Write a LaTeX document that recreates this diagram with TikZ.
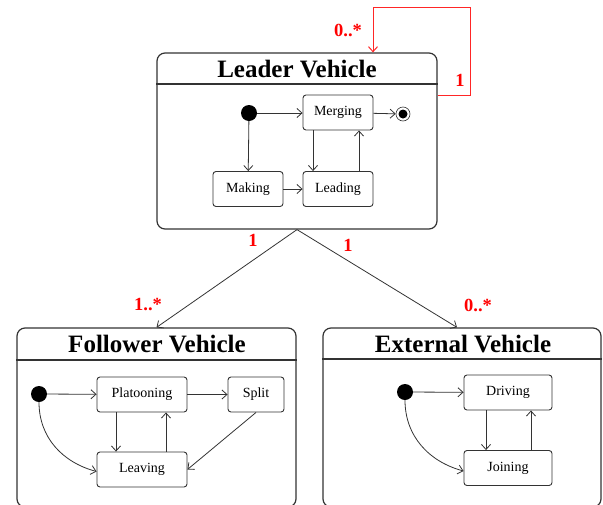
\documentclass[tikz,border=0pt]{standalone}
\usepackage{fontspec}
\setmainfont{Liberation Serif}
\usetikzlibrary{arrows.meta}
\begin{document}
\begin{tikzpicture}[x=1pt,y=-1pt,
  compound/.style={draw=black!80, line width=1.2pt, rounded corners=8pt, inner sep=0pt},
  divider/.style={draw=black!80, line width=1.2pt},
  statebox/.style={draw=black!80, line width=0.9pt, rounded corners=3pt, minimum height=35pt,
    fill=white, inner sep=0pt, font=\fontsize{14}{14}\selectfont},
  initial/.style={circle, fill=black, minimum size=16pt, inner sep=0pt},
  final/.style={circle, draw=black!80, line width=0.6pt, minimum size=14pt, inner sep=0pt,
    path picture={\fill[black] (path picture bounding box.center) circle (4.5pt);}},
  trans/.style={draw=black!80, line width=0.8pt, -{Straight Barb[length=5pt,width=9pt]}},
  assoc/.style={draw=black!80, line width=0.8pt, -{Straight Barb[length=5pt,width=9pt]}},
  redloop/.style={draw=red!85!white, line width=1pt, -{Straight Barb[length=5pt,width=9pt]}},
  mult/.style={text=red, font=\bfseries\fontsize{18.5}{18.5}\selectfont},
  title/.style={font=\bfseries\fontsize{25}{25}\selectfont}
]
\useasboundingbox (0,0) rectangle (603,504);
\clip (0,0) rectangle (603,504);

% ---------- Leader Vehicle ----------
\node[compound, minimum width=280pt, minimum height=176pt] (leader) at (297,141) {};
\draw[divider] (leader.west |- 0,84) -- (leader.east |- 0,84);
\node[title] (leadertitle) at (297,69) {Leader Vehicle};

\node[initial] (li) at (249,113) {};
\node[statebox, minimum width=70pt] (merging) at (338,112.5) {Merging};
\node[final] (lfin) at (403,114) {};
\node[statebox, minimum width=70pt] (making) at (248,189) {Making};
\node[statebox, minimum width=70pt] (leading) at (338,189) {Leading};

\draw[trans] (li) -- (li -| merging.west);
\draw[trans] (merging) -- (lfin);
\draw[trans] (li) -- (making);
\draw[trans] (making) -- (leading);
\draw[trans] ([xshift=-25pt]merging.south) -- ([xshift=-25pt]leading.north);
\draw[trans] ([xshift=21pt]leading.north) -- ([xshift=21pt]merging.south);

% self association
\coordinate (loopa) at (470,95);
\coordinate (loopb) at (373,7);
\draw[redloop] (leader.east |- loopa) -- (loopa) |- (loopb) -- (loopb |- leader.north);
\node[mult] (m1) at (348,30) {0..*};
\node[mult] (m2) at (460,80) {1};

% ---------- Follower Vehicle ----------
\node[compound, minimum width=279pt, minimum height=179pt] (follower) at (156.5,417.5) {};
\draw[divider] (follower.west |- 0,360) -- (follower.east |- 0,360);
\node[title] (followertitle) at (157,344) {Follower Vehicle};

\node[initial] (fi) at (39,394) {};
\node[statebox, minimum width=90pt] (platooning) at (142,394.5) {Platooning};
\node[statebox, minimum width=56pt] (split) at (256,394.5) {Split};
\node[statebox, minimum width=90pt] (leaving) at (142,469.5) {Leaving};

\draw[trans] (fi) -- (platooning);
\draw[trans] (platooning) -- (split);
\draw[trans] ([xshift=-26pt]platooning.south) -- ([xshift=-26pt]leaving.north);
\draw[trans] ([xshift=24pt]leaving.north) -- ([xshift=24pt]platooning.south);
\draw[trans] (split.south) -- (leaving.east);
\draw[trans] (fi.south) to[out=-90, in=165] ([yshift=-2pt]leaving.west);

% ---------- External Vehicle ----------
\node[compound, minimum width=278pt, minimum height=179pt] (external) at (462,417.5) {};
\draw[divider] (external.west |- 0,359) -- (external.east |- 0,359);
\node[title] (externaltitle) at (463,344) {External Vehicle};

\node[initial] (ei) at (405,392) {};
\node[statebox, minimum width=88pt] (driving) at (508,392.5) {Driving};
\node[statebox, minimum width=88pt] (joining) at (508,468) {Joining};

\draw[trans] (ei) -- (driving);
\draw[trans] ([xshift=-22pt]driving.south) -- ([xshift=-22pt]joining.north);
\draw[trans] ([xshift=23pt]joining.north) -- ([xshift=23pt]driving.south);
\draw[trans] (ei.south) to[out=-90, in=165] ([yshift=-3pt]joining.west);

% ---------- associations ----------
\draw[assoc] (leader.south) -- (follower.north);
\draw[assoc] (leader.south) -- ([xshift=-5pt]external.north);
\node[mult] (m3) at (253,240) {1};
\node[mult] (m4) at (348,245) {1};
\node[mult] (m5) at (148,305) {1..*};
\node[mult] (m6) at (478,305) {0..*};
\end{tikzpicture}
\end{document}
